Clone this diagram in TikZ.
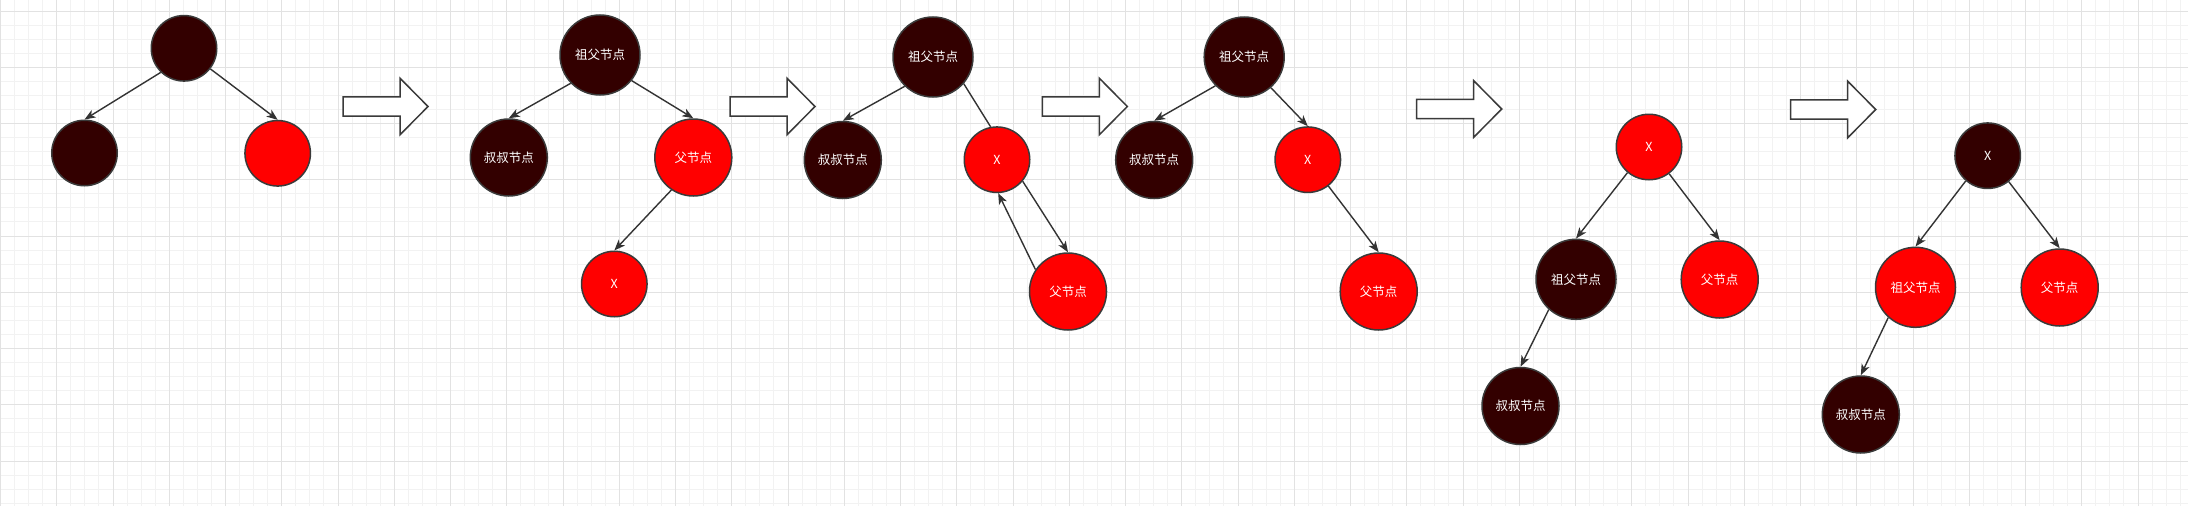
\documentclass[tikz,border=0pt]{standalone}
\usepackage{fontspec}
\newfontfamily\cjk{Noto Sans CJK SC}
\usetikzlibrary{arrows.meta}
\definecolor{nodedark}{HTML}{330000}
\definecolor{nodered}{HTML}{FF0000}
\definecolor{nodeline}{HTML}{3A3A3A}
\definecolor{edgecol}{HTML}{333333}
\definecolor{gridminor}{HTML}{F2F2F2}
\definecolor{gridmajor}{HTML}{E2E2E2}
\begin{document}
\begin{tikzpicture}[x=1pt,y=-1pt,
  rb/.style={circle, draw=nodeline, line width=1.5pt, inner sep=0pt, text=white, font=\cjk\fontsize{12.5}{14}\selectfont},
  blknode/.style={rb, fill=nodedark},
  rednode/.style={rb, fill=nodered},
  smallnode/.style={minimum size=65.5pt},
  midnode/.style={minimum size=77pt},
  bignode/.style={minimum size=80pt},
  edge/.style={draw=edgecol, line width=1.4pt, -{Stealth[length=11pt,width=8.5pt,inset=3pt]}},
  plainedge/.style={draw=edgecol, line width=1.4pt},
  blockarr/.pic={\draw[draw=nodeline, fill=white, line width=1.5pt] (0,-9.7) -- (57,-9.7) -- (57,-28.3) -- (85,0) -- (57,28.3) -- (57,9.7) -- (0,9.7) -- cycle;}
]
\useasboundingbox (0,0) rectangle (2188,506);
\fill[white] (0,0) rectangle (2188,506);
% grid
\foreach \i in {0,...,155} {\pgfmathsetmacro\xx{0.5+14.0625*\i}\draw[gridminor, line width=1pt] (\xx,0) -- (\xx,506);}
\foreach \j in {0,...,35} {\pgfmathsetmacro\yy{11+14.0625*\j}\draw[gridminor, line width=1pt] (0,\yy) -- (2188,\yy);}
\foreach \i in {0,...,38} {\pgfmathsetmacro\xx{0.5+56.25*\i}\draw[gridmajor, line width=1pt] (\xx,0) -- (\xx,506);}
\foreach \j in {0,...,8} {\pgfmathsetmacro\yy{11+56.25*\j}\draw[gridmajor, line width=1pt] (0,\yy) -- (2188,\yy);}

% block arrows
\pic at (343,106.5) {blockarr};
\pic at (730,106.5) {blockarr};
\pic at (1042.3,106.5) {blockarr};
\pic at (1416.7,109) {blockarr};
\pic at (1790.7,109.5) {blockarr};

% tree 1
\node[blknode, smallnode] (t1r) at (184,48.3) {};
\node[blknode, smallnode] (t1l) at (84.5,153) {};
\node[rednode, smallnode] (t1rr) at (277.7,153.3) {};
% tree 2
\node[blknode, bignode] (t2g) at (600,55) {祖父节点};
\node[blknode, midnode] (t2u) at (508.8,157.5) {叔叔节点};
\node[rednode, midnode] (t2p) at (693.3,157.5) {父节点};
\node[rednode, smallnode] (t2x) at (614.3,284) {X};
% tree 3
\node[blknode, bignode] (t3g) at (933,57) {祖父节点};
\node[blknode, midnode] (t3u) at (842.8,160) {叔叔节点};
\node[rednode, smallnode] (t3x) at (997,159.7) {X};
\node[rednode, midnode] (t3p) at (1068,291.5) {父节点};
% tree 4
\node[blknode, bignode] (t4g) at (1244.2,57) {祖父节点};
\node[blknode, midnode] (t4u) at (1154.2,160) {叔叔节点};
\node[rednode, smallnode] (t4x) at (1307.8,159.7) {X};
\node[rednode, midnode] (t4p) at (1378.7,291.5) {父节点};
% tree 5
\node[rednode, smallnode] (t5x) at (1649,147) {X};
\node[blknode, bignode] (t5g) at (1576,279.3) {祖父节点};
\node[rednode, midnode] (t5p) at (1719.7,279.5) {父节点};
\node[blknode, midnode] (t5u) at (1520.5,406) {叔叔节点};
% tree 6
\node[blknode, smallnode] (t6x) at (1987.7,155.7) {X};
\node[rednode, bignode] (t6g) at (1915.5,287.3) {祖父节点};
\node[rednode, midnode] (t6p) at (2059.7,287.5) {父节点};
\node[blknode, midnode] (t6u) at (1860.8,414.5) {叔叔节点};

% edges
\draw[edge] (t1r.226) -- (t1l.north);
\draw[edge] (t1r.-38) -- (t1rr.north);
\draw[edge] (t2g.224) -- (t2u.north);
\draw[edge] (t2g.-39) -- (t2p.north);
\draw[edge] (t2p.-124) -- (t2x.north);
\draw[edge] (t3g.226) -- (t3u.north);
\draw[plainedge] (t3g.-41) -- (t3x.101);
\draw[edge] (t3x.-40) -- (t3p.north);
\draw[edge] (t3p.146) -- (t3x.-88);
\draw[edge] (t4g.225) -- (t4u.north);
\draw[edge] (t4g.-49) -- (t4x.north);
\draw[edge] (t4x.-52) -- (t4p.north);
\draw[edge] (t5x.230) -- (t5g.north);
\draw[edge] (t5x.-53) -- (t5p.north);
\draw[edge] (t5g.228) -- (t5u.north);
\draw[edge] (t6x.229) -- (t6g.north);
\draw[edge] (t6x.-51) -- (t6p.north);
\draw[edge] (t6g.228) -- (t6u.north);
\end{tikzpicture}
\end{document}
